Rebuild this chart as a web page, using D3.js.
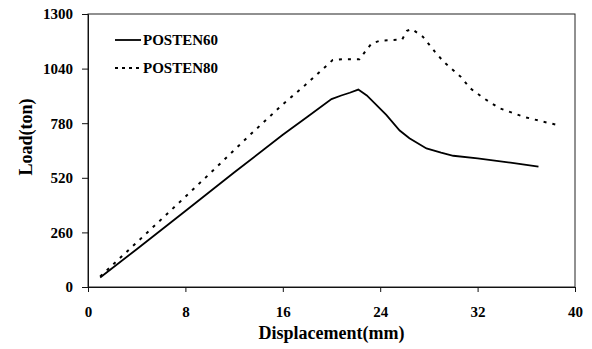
<!DOCTYPE html>
<html><head><meta charset="utf-8">
<script src="https://cdn.jsdelivr.net/npm/d3@7/dist/d3.min.js"></script>
<style>body{margin:0;background:#fff}svg{display:block}text{font-family:"Liberation Serif","Times New Roman",serif;font-weight:bold;fill:#000}</style>
</head><body><svg id="c" width="592" height="349"></svg>
<script>
const seriesNames = ["POSTEN60", "POSTEN80"];
const xTicks = [0, 8, 16, 24, 32, 40];
const yTicks = [0, 260, 520, 780, 1040, 1300];
const posten60X = [1, 4, 8, 12, 16, 18, 20, 20.8, 21.5, 22.2, 22.9, 24.5, 25.6, 26.4, 27.8, 29, 30, 32, 34.7, 37];
const posten60Y = [45, 180, 362, 545, 725, 810, 895, 912, 925, 940, 912, 820, 745, 708, 660, 640, 625, 612, 592, 573];
const posten80X = [1, 4, 8, 10, 13.3, 16, 17.7, 19.5, 20.1, 21, 22.3, 22.75, 23.3, 24, 25, 25.8, 26.2, 26.6, 27.5, 28.5, 29.2, 30.6, 31.4, 32.5, 33.8, 35.75, 37.4, 38.6];
const posten80Y = [50, 212, 430, 540, 724, 870, 954, 1049, 1081, 1085, 1084, 1120, 1160, 1173, 1176, 1178, 1220, 1228, 1192, 1120, 1073, 1002, 946, 899, 851, 811, 787, 771];

const svg = d3.select("#c");
const L = 88, R = 575, T = 14, B = 287;
const x = d3.scaleLinear().domain([0, 40]).range([L, R]);
const y = d3.scaleLinear().domain([0, 1300]).range([B, T]);

svg.append("rect").attr("x", L).attr("y", T).attr("width", R - L).attr("height", B - T)
  .attr("fill", "none").attr("stroke", "#222").attr("stroke-width", 1);

const fmt = d3.format("d");
const xa = svg.append("g").attr("transform", `translate(0,${B})`)
  .call(d3.axisBottom(x).tickValues(xTicks).tickFormat(fmt).tickSize(5).tickPadding(14));
const ya = svg.append("g").attr("transform", `translate(${L},0)`)
  .call(d3.axisLeft(y).tickValues(yTicks).tickFormat(fmt).tickSize(6).tickPadding(9));
[xa, ya].forEach(a => {
  a.select(".domain").attr("stroke", "#111");
  a.selectAll(".tick line").attr("stroke", "#111");
  a.selectAll("text").style("font-size", "15px").style("font-family", "'Liberation Serif',serif").style("font-weight", "bold").attr("fill", "#000");
});

const line = d3.line().x(d => x(d[0])).y(d => y(d[1]));
const d60 = posten60X.map((v, i) => [v, posten60Y[i]]);
const d80 = posten80X.map((v, i) => [v, posten80Y[i]]);
svg.append("path").datum(d60).attr("d", line).attr("fill", "none").attr("stroke", "#000").attr("stroke-width", 1.8);
svg.append("path").datum(d80).attr("d", line).attr("fill", "none").attr("stroke", "#000").attr("stroke-width", 2).attr("stroke-dasharray", "3,6");

const leg = [{name: seriesNames[0], dash: null, yy: 40}, {name: seriesNames[1], dash: "3,4", yy: 68}];
leg.forEach(l => {
  svg.append("line").attr("x1", 115).attr("x2", 141).attr("y1", l.yy).attr("y2", l.yy)
    .attr("stroke", "#000").attr("stroke-width", 1.8).attr("stroke-dasharray", l.dash);
  svg.append("text").attr("x", 143).attr("y", l.yy + 5).style("font-size", "15px").text(l.name);
});

svg.append("text").attr("x", (L + R) / 2).attr("y", 339).attr("text-anchor", "middle")
  .style("font-size", "18px").text("Displacement(mm)");
svg.append("text").attr("transform", "translate(32,137) rotate(-90)").attr("text-anchor", "middle")
  .style("font-size", "18px").text("Load(ton)");
</script></body></html>
